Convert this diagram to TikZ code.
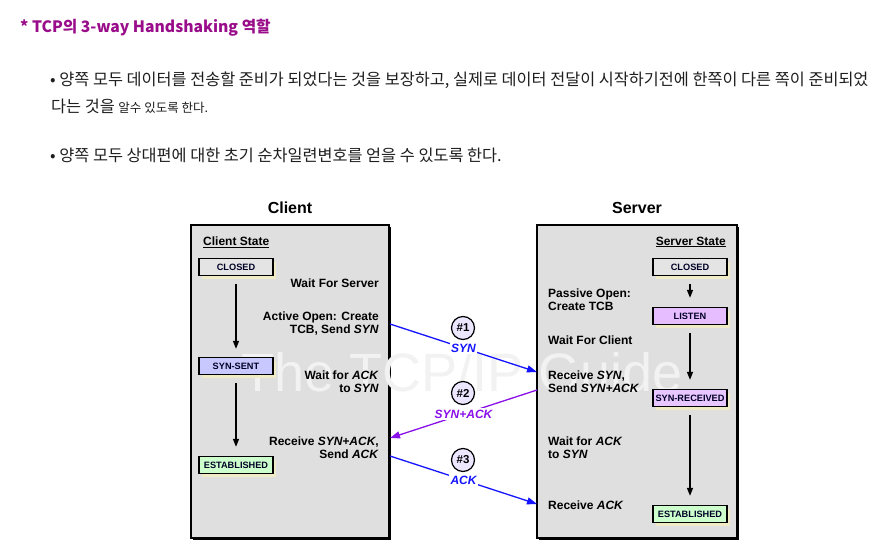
\documentclass[tikz,border=0pt]{standalone}
\usepackage{fontspec}
\setmainfont{Liberation Sans}
\newfontfamily\kr{Noto Sans CJK KR}
\usetikzlibrary{arrows.meta,shadows}
\definecolor{titlec}{HTML}{9A0D8A}
\definecolor{bodyc}{HTML}{1E1E1E}
\definecolor{boxgray}{HTML}{DFDFDF}
\definecolor{wmark}{HTML}{F2F2F2}
\definecolor{shyel}{HTML}{EFEBC6}
\definecolor{fclosed}{HTML}{E4E4E4}
\definecolor{fsynsent}{HTML}{C8C8FF}
\definecolor{fest}{HTML}{CCFFCC}
\definecolor{flisten}{HTML}{E6BEFF}
\definecolor{fsynrec}{HTML}{E8C6FF}
\definecolor{fcirc}{HTML}{ECE6FF}
\definecolor{synblue}{HTML}{1414FF}
\definecolor{ackpurple}{HTML}{8A10E8}
\tikzset{
  x=1pt,y=-1pt,
  bodytxt/.style={anchor=west,inner sep=0pt,text=bodyc,font=\kr\fontsize{16.3}{19}\selectfont},
  sidebox/.style={draw=black,line width=1.6pt,fill=boxgray},
  headlbl/.style={font=\bfseries\fontsize{16}{19}\selectfont,inner sep=0pt},
  statehead/.style={font=\bfseries\fontsize{12}{14}\selectfont,inner sep=0pt},
  stbox/.style={draw=black,line width=1.3pt,minimum width=74pt,minimum height=17pt,inner sep=0pt,
    font=\bfseries\fontsize{9.2}{11}\selectfont,text=black!85!blue,
    drop shadow={shadow xshift=3pt,shadow yshift=-3pt,fill=shyel,opacity=1}},
  cltxt/.style={anchor=east,align=right,inner sep=0pt,font=\bfseries\fontsize{12}{13}\selectfont},
  svtxt/.style={anchor=west,align=left,inner sep=0pt,font=\bfseries\fontsize{12}{13}\selectfont},
  statearrow/.style={-{Triangle[length=8pt,width=6pt]},line width=1.3pt,black},
  hsarrow/.style={-{Triangle[length=10pt,width=7pt]},line width=1.3pt},
  stepcirc/.style={circle,draw=black,line width=1.2pt,fill=fcirc,minimum size=23pt,inner sep=0pt,
    font=\bfseries\fontsize{11.5}{13}\selectfont},
  msglbl/.style={fill=white,inner sep=1.5pt,font=\bfseries\itshape\fontsize{12}{13}\selectfont},
}
\begin{document}
\begin{tikzpicture}
\useasboundingbox[fill=white] (0,0) rectangle (880,540);

% text header
\node[bodytxt,text=titlec,font=\kr\bfseries\fontsize{15.7}{19}\selectfont] (title) at (20,28) {* TCP의 3-way Handshaking 역할};
\node[bodytxt] (b1) at (50,80) {• 양쪽 모두 데이터를 전송할 준비가 되었다는 것을 보장하고, 실제로 데이터 전달이 시작하기전에 한쪽이 다른 쪽이 준비되었};
\node[bodytxt] (b1c) at (51,106) {다는 것을 {\fontsize{12.5}{14}\selectfont 알수 있도록 한다.}};
\node[bodytxt] (b2) at (50,155) {• 양쪽 모두 상대편에 대한 초기 순차일련변호를 얻을 수 있도록 한다.};

% side boxes
\fill[black] (193,227) rectangle (391,540);
\draw[sidebox] (191,225) rectangle (389,538);
\fill[black] (539,227) rectangle (739,540);
\draw[sidebox] (537,225) rectangle (737,538);

% watermark
\node[text=wmark,font=\fontsize{54}{60}\selectfont,inner sep=0pt] (wm) at (462,372) {The TCP/IP Guide};

\node[headlbl] (clientlbl) at (290,208) {Client};
\node[headlbl] (serverlbl) at (637,208) {Server};

\node[statehead,anchor=west] (cstate) at (203,242) {\underline{Client State}};
\node[statehead,anchor=east] (sstate) at (726,242) {\underline{Server State}};

% client states
\node[stbox,fill=fclosed] (cclosed) at (236,267) {CLOSED};
\node[stbox,fill=fsynsent] (csynsent) at (236,366) {SYN-SENT};
\node[stbox,fill=fest] (cest) at (236,465) {ESTABLISHED};
\draw[statearrow,shorten <=8pt,shorten >=8pt] (cclosed.south) -- (csynsent.north);
\draw[statearrow,shorten <=8pt,shorten >=9pt] (csynsent.south) -- (cest.north);

% server states
\node[stbox,fill=fclosed] (sclosed) at (690,267) {CLOSED};
\node[stbox,fill=flisten] (slisten) at (690,316) {LISTEN};
\node[stbox,fill=fsynrec] (ssynrec) at (690,398) {SYN-RECEIVED};
\node[stbox,fill=fest] (sest) at (690,514) {ESTABLISHED};
\draw[statearrow,shorten <=8pt,shorten >=9pt] (sclosed.south) -- (slisten.north);
\draw[statearrow,shorten <=8pt,shorten >=9pt] (slisten.south) -- (ssynrec.north);
\draw[statearrow,shorten <=8pt,shorten >=9pt] (ssynrec.south) -- (sest.north);

% client texts
\node[cltxt] (cw1) at (379,283) {Wait For Server};
\node[cltxt] (cw2) at (379,324) {Active Open: Create\\TCB, Send \textit{SYN}};
\node[cltxt] (cw3) at (379,381.5) {Wait for \textit{ACK}\\to \textit{SYN}};
\node[cltxt] (cw4) at (379,447.5) {Receive \textit{SYN+ACK},\\Send \textit{ACK}};

% server texts
\node[svtxt] (sw1) at (548,299.5) {Passive Open:\\Create TCB};
\node[svtxt] (sw2) at (548,340) {Wait For Client};
\node[svtxt] (sw3) at (548,381.5) {Receive \textit{SYN},\\Send \textit{SYN+ACK}};
\node[svtxt] (sw4) at (548,447.5) {Wait for \textit{ACK}\\to \textit{SYN}};
\node[svtxt] (sw5) at (548,505) {Receive \textit{ACK}};

% handshake
\coordinate (h1s) at (390,324);
\coordinate (h1e) at (537,372);
\coordinate (h2s) at (537,390);
\coordinate (h2e) at (390,438);
\coordinate (h3s) at (390,456);
\coordinate (h3e) at (537,504);
\draw[hsarrow,synblue] (h1s) -- node[msglbl,text=synblue] (l1) {SYN} (h1e);
\draw[hsarrow,ackpurple] (h2s) -- node[msglbl,text=ackpurple] (l2) {SYN+ACK} (h2e);
\draw[hsarrow,synblue] (h3s) -- node[msglbl,text=synblue] (l3) {ACK} (h3e);
\node[stepcirc] (n1) at (463,328) {\#1};
\node[stepcirc] (n2) at (463,393) {\#2};
\node[stepcirc] (n3) at (463,460) {\#3};
\end{tikzpicture}
\end{document}
